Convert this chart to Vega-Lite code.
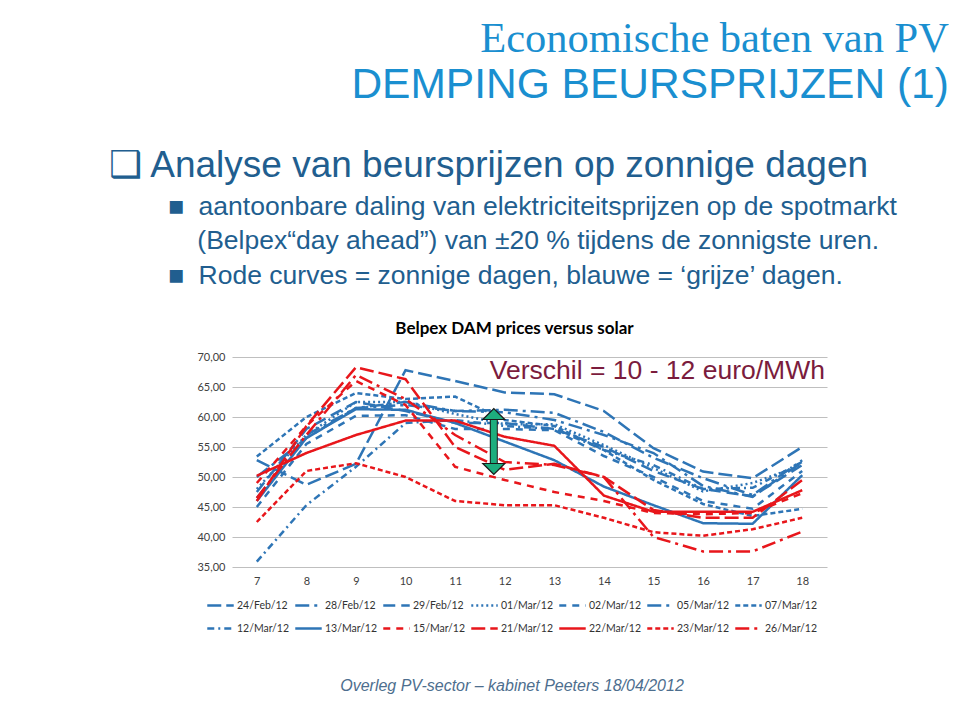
{
  "$schema": "https://vega.github.io/schema/vega-lite/v6.json",
  "background": "white",
  "padding": {"left": 108, "top": 17, "right": 0, "bottom": 0},
  "autosize": {"type": "pad"},
  "config": {
    "locale": {"number": {"decimal": ",", "thousands": ".", "grouping": [3], "currency": ["", " €"]}},
    "view": {"stroke": null},
    "font": "Lato",
    "concat": {"spacing": 0}
  },
  "title": {
    "text": "Economische baten van PV",
    "subtitle": "DEMPING BEURSPRIJZEN (1)",
    "anchor": "end",
    "dx": 52,
    "offset": 40,
    "font": "Liberation Serif",
    "fontSize": 42.5,
    "fontWeight": "normal",
    "color": "#1A8FD0",
    "subtitleFont": "Liberation Sans",
    "subtitleFontSize": 42.5,
    "subtitleColor": "#1A8FD0",
    "subtitlePadding": 4
  },
  "vconcat": [
    {
      "title": {
        "text": "❑ Analyse van beursprijzen op zonnige dagen",
        "subtitle": [
          "\u200b\u00a0\u00a0\u00a0\u00a0\u00a0\u00a0\u00a0\u00a0■\u00a0\u00a0aantoonbare daling van elektriciteitsprijzen op de spotmarkt",
          "\u200b\u00a0\u00a0\u00a0\u00a0\u00a0\u00a0\u00a0\u00a0\u00a0\u00a0\u00a0\u00a0(Belpex“day ahead”) van ±20 % tijdens de zonnigste uren.",
          "\u200b\u00a0\u00a0\u00a0\u00a0\u00a0\u00a0\u00a0\u00a0■\u00a0\u00a0Rode curves = zonnige dagen, blauwe = ‘grijze’ dagen."
        ],
        "anchor": "start",
        "dx": -88,
        "offset": 30,
        "font": "Liberation Sans",
        "fontSize": 37,
        "fontWeight": "normal",
        "color": "#215E8F",
        "subtitleFont": "Liberation Sans",
        "subtitleFontSize": 26.5,
        "subtitleColor": "#215E8F",
        "subtitleLineHeight": 34.5,
        "subtitlePadding": 9
      },
      "vconcat": [
        {
          "width": 595,
          "height": 210,
          "title": {
            "text": "Belpex DAM prices versus solar",
            "font": "Lato",
            "fontSize": 17,
            "fontWeight": "bold",
            "color": "#000000",
            "offset": 13,
            "dx": -15
          },
          "layer": [
            {
              "data": {"values": [
                {"date":"24/Feb/12","hour":7,"price":52.8},{"date":"24/Feb/12","hour":8,"price":48.7},{"date":"24/Feb/12","hour":9,"price":52.2},{"date":"24/Feb/12","hour":10,"price":67.8},{"date":"24/Feb/12","hour":11,"price":66.0},{"date":"24/Feb/12","hour":12,"price":64.1},{"date":"24/Feb/12","hour":13,"price":63.8},{"date":"24/Feb/12","hour":14,"price":61.0},{"date":"24/Feb/12","hour":15,"price":54.8},{"date":"24/Feb/12","hour":16,"price":50.9},{"date":"24/Feb/12","hour":17,"price":49.8},{"date":"24/Feb/12","hour":18,"price":55.0},
                {"date":"28/Feb/12","hour":7,"price":46.5},{"date":"28/Feb/12","hour":8,"price":57.0},{"date":"28/Feb/12","hour":9,"price":61.5},{"date":"28/Feb/12","hour":10,"price":62.0},{"date":"28/Feb/12","hour":11,"price":61.0},{"date":"28/Feb/12","hour":12,"price":60.8},{"date":"28/Feb/12","hour":13,"price":59.5},{"date":"28/Feb/12","hour":14,"price":57.0},{"date":"28/Feb/12","hour":15,"price":54.0},{"date":"28/Feb/12","hour":16,"price":48.5},{"date":"28/Feb/12","hour":17,"price":46.7},{"date":"28/Feb/12","hour":18,"price":52.5},
                {"date":"29/Feb/12","hour":7,"price":47.5},{"date":"29/Feb/12","hour":8,"price":58.0},{"date":"29/Feb/12","hour":9,"price":62.5},{"date":"29/Feb/12","hour":10,"price":61.0},{"date":"29/Feb/12","hour":11,"price":59.0},{"date":"29/Feb/12","hour":12,"price":59.0},{"date":"29/Feb/12","hour":13,"price":58.0},{"date":"29/Feb/12","hour":14,"price":55.0},{"date":"29/Feb/12","hour":15,"price":51.0},{"date":"29/Feb/12","hour":16,"price":48.0},{"date":"29/Feb/12","hour":17,"price":46.8},{"date":"29/Feb/12","hour":18,"price":52.0},
                {"date":"01/Mar/12","hour":7,"price":48.0},{"date":"01/Mar/12","hour":8,"price":57.0},{"date":"01/Mar/12","hour":9,"price":62.5},{"date":"01/Mar/12","hour":10,"price":62.5},{"date":"01/Mar/12","hour":11,"price":60.5},{"date":"01/Mar/12","hour":12,"price":58.8},{"date":"01/Mar/12","hour":13,"price":58.8},{"date":"01/Mar/12","hour":14,"price":55.3},{"date":"01/Mar/12","hour":15,"price":51.5},{"date":"01/Mar/12","hour":16,"price":47.6},{"date":"01/Mar/12","hour":17,"price":49.0},{"date":"01/Mar/12","hour":18,"price":52.0},
                {"date":"02/Mar/12","hour":7,"price":45.0},{"date":"02/Mar/12","hour":8,"price":55.5},{"date":"02/Mar/12","hour":9,"price":60.2},{"date":"02/Mar/12","hour":10,"price":60.3},{"date":"02/Mar/12","hour":11,"price":58.0},{"date":"02/Mar/12","hour":12,"price":58.0},{"date":"02/Mar/12","hour":13,"price":57.8},{"date":"02/Mar/12","hour":14,"price":53.5},{"date":"02/Mar/12","hour":15,"price":50.0},{"date":"02/Mar/12","hour":16,"price":46.0},{"date":"02/Mar/12","hour":17,"price":44.7},{"date":"02/Mar/12","hour":18,"price":51.0},
                {"date":"05/Mar/12","hour":7,"price":50.0},{"date":"05/Mar/12","hour":8,"price":56.5},{"date":"05/Mar/12","hour":9,"price":61.5},{"date":"05/Mar/12","hour":10,"price":62.5},{"date":"05/Mar/12","hour":11,"price":61.0},{"date":"05/Mar/12","hour":12,"price":61.2},{"date":"05/Mar/12","hour":13,"price":60.7},{"date":"05/Mar/12","hour":14,"price":57.5},{"date":"05/Mar/12","hour":15,"price":53.2},{"date":"05/Mar/12","hour":16,"price":49.8},{"date":"05/Mar/12","hour":17,"price":47.0},{"date":"05/Mar/12","hour":18,"price":52.8},
                {"date":"07/Mar/12","hour":7,"price":53.4},{"date":"07/Mar/12","hour":8,"price":60.0},{"date":"07/Mar/12","hour":9,"price":64.0},{"date":"07/Mar/12","hour":10,"price":63.0},{"date":"07/Mar/12","hour":11,"price":63.4},{"date":"07/Mar/12","hour":12,"price":59.5},{"date":"07/Mar/12","hour":13,"price":58.5},{"date":"07/Mar/12","hour":14,"price":54.5},{"date":"07/Mar/12","hour":15,"price":49.5},{"date":"07/Mar/12","hour":16,"price":45.5},{"date":"07/Mar/12","hour":17,"price":43.5},{"date":"07/Mar/12","hour":18,"price":44.7},
                {"date":"12/Mar/12","hour":7,"price":35.9},{"date":"12/Mar/12","hour":8,"price":45.3},{"date":"12/Mar/12","hour":9,"price":51.7},{"date":"12/Mar/12","hour":10,"price":59.0},{"date":"12/Mar/12","hour":11,"price":59.5},{"date":"12/Mar/12","hour":12,"price":58.5},{"date":"12/Mar/12","hour":13,"price":58.0},{"date":"12/Mar/12","hour":14,"price":54.5},{"date":"12/Mar/12","hour":15,"price":52.0},{"date":"12/Mar/12","hour":16,"price":48.0},{"date":"12/Mar/12","hour":17,"price":48.2},{"date":"12/Mar/12","hour":18,"price":52.5},
                {"date":"13/Mar/12","hour":7,"price":46.0},{"date":"13/Mar/12","hour":8,"price":56.5},{"date":"13/Mar/12","hour":9,"price":61.3},{"date":"13/Mar/12","hour":10,"price":61.2},{"date":"13/Mar/12","hour":11,"price":59.0},{"date":"13/Mar/12","hour":12,"price":55.9},{"date":"13/Mar/12","hour":13,"price":52.8},{"date":"13/Mar/12","hour":14,"price":48.4},{"date":"13/Mar/12","hour":15,"price":45.3},{"date":"13/Mar/12","hour":16,"price":42.3},{"date":"13/Mar/12","hour":17,"price":42.2},{"date":"13/Mar/12","hour":18,"price":50.3},
                {"date":"15/Mar/12","hour":7,"price":49.0},{"date":"15/Mar/12","hour":8,"price":58.5},{"date":"15/Mar/12","hour":9,"price":66.0},{"date":"15/Mar/12","hour":10,"price":62.0},{"date":"15/Mar/12","hour":11,"price":51.7},{"date":"15/Mar/12","hour":12,"price":49.5},{"date":"15/Mar/12","hour":13,"price":47.5},{"date":"15/Mar/12","hour":14,"price":46.0},{"date":"15/Mar/12","hour":15,"price":44.0},{"date":"15/Mar/12","hour":16,"price":43.8},{"date":"15/Mar/12","hour":17,"price":44.0},{"date":"15/Mar/12","hour":18,"price":47.3},
                {"date":"21/Mar/12","hour":7,"price":46.0},{"date":"21/Mar/12","hour":8,"price":58.5},{"date":"21/Mar/12","hour":9,"price":68.3},{"date":"21/Mar/12","hour":10,"price":66.3},{"date":"21/Mar/12","hour":11,"price":55.0},{"date":"21/Mar/12","hour":12,"price":51.2},{"date":"21/Mar/12","hour":13,"price":52.2},{"date":"21/Mar/12","hour":14,"price":50.0},{"date":"21/Mar/12","hour":15,"price":44.5},{"date":"21/Mar/12","hour":16,"price":43.2},{"date":"21/Mar/12","hour":17,"price":43.2},{"date":"21/Mar/12","hour":18,"price":49.5},
                {"date":"22/Mar/12","hour":7,"price":50.2},{"date":"22/Mar/12","hour":8,"price":54.0},{"date":"22/Mar/12","hour":9,"price":57.0},{"date":"22/Mar/12","hour":10,"price":59.4},{"date":"22/Mar/12","hour":11,"price":59.4},{"date":"22/Mar/12","hour":12,"price":56.7},{"date":"22/Mar/12","hour":13,"price":55.2},{"date":"22/Mar/12","hour":14,"price":46.9},{"date":"22/Mar/12","hour":15,"price":44.2},{"date":"22/Mar/12","hour":16,"price":44.2},{"date":"22/Mar/12","hour":17,"price":44.2},{"date":"22/Mar/12","hour":18,"price":47.8},
                {"date":"23/Mar/12","hour":7,"price":42.5},{"date":"23/Mar/12","hour":8,"price":51.0},{"date":"23/Mar/12","hour":9,"price":52.3},{"date":"23/Mar/12","hour":10,"price":50.0},{"date":"23/Mar/12","hour":11,"price":46.0},{"date":"23/Mar/12","hour":12,"price":45.3},{"date":"23/Mar/12","hour":13,"price":45.3},{"date":"23/Mar/12","hour":14,"price":43.2},{"date":"23/Mar/12","hour":15,"price":40.8},{"date":"23/Mar/12","hour":16,"price":40.2},{"date":"23/Mar/12","hour":17,"price":41.3},{"date":"23/Mar/12","hour":18,"price":43.2},
                {"date":"26/Mar/12","hour":7,"price":46.5},{"date":"26/Mar/12","hour":8,"price":57.0},{"date":"26/Mar/12","hour":9,"price":67.0},{"date":"26/Mar/12","hour":10,"price":63.0},{"date":"26/Mar/12","hour":11,"price":57.0},{"date":"26/Mar/12","hour":12,"price":52.5},{"date":"26/Mar/12","hour":13,"price":52.0},{"date":"26/Mar/12","hour":14,"price":50.0},{"date":"26/Mar/12","hour":15,"price":40.0},{"date":"26/Mar/12","hour":16,"price":37.6},{"date":"26/Mar/12","hour":17,"price":37.6},{"date":"26/Mar/12","hour":18,"price":40.9}
              ]},
              "mark": {"type": "line", "strokeWidth": 2.5},
              "encoding": {
                "x": {
                  "field": "hour", "type": "quantitative",
                  "scale": {"domain": [6.5, 18.5], "nice": false, "zero": false},
                  "axis": {"values": [7,8,9,10,11,12,13,14,15,16,17,18], "tickCount": 12, "title": null, "grid": false, "ticks": false, "domain": false, "labelOverlap": false, "labelFont": "Lato", "labelFontSize": 11, "labelColor": "#404040", "labelPadding": 8}
                },
                "y": {
                  "field": "price", "type": "quantitative",
                  "scale": {"domain": [35, 70], "nice": false, "zero": false},
                  "axis": {"values": [35,40,45,50,55,60,65,70], "tickCount": 8, "format": ".2f", "title": null, "ticks": false, "domain": false, "labelOverlap": false, "gridColor": "#BFBFBF", "gridWidth": 1.2, "labelFont": "Lato", "labelFontSize": 11, "labelColor": "#404040", "labelPadding": 7}
                },
                "color": {
                  "field": "date", "type": "nominal",
                  "scale": {
                    "domain": ["24/Feb/12","28/Feb/12","29/Feb/12","01/Mar/12","02/Mar/12","05/Mar/12","07/Mar/12","12/Mar/12","13/Mar/12","15/Mar/12","21/Mar/12","22/Mar/12","23/Mar/12","26/Mar/12"],
                    "range": ["#2E75B6","#2E75B6","#2E75B6","#2E75B6","#2E75B6","#2E75B6","#2E75B6","#2E75B6","#2E75B6","#E8161B","#E8161B","#E8161B","#E8161B","#E8161B"]
                  },
                  "legend": {"orient": "none", "legendX": -26, "legendY": 234, "direction": "horizontal", "columns": 7, "title": "Overleg PV-sector – kabinet Peeters 18/04/2012", "titleOrient": "bottom", "titleAnchor": "middle", "titleFont": "Liberation Sans", "titleFontSize": 16, "titleFontStyle": "italic", "titleFontWeight": "normal", "titleColor": "#4D6E8E", "titlePadding": 44, "titleLimit": 1000, "symbolType": "stroke", "symbolSize": 700, "symbolStrokeWidth": 2.5, "labelFont": "Lato", "labelFontSize": 10.5, "labelColor": "#333333", "labelOffset": 2, "columnPadding": 0, "rowPadding": 3}
                },
                "strokeDash": {
                  "field": "date", "type": "nominal",
                  "scale": {
                    "domain": ["24/Feb/12","28/Feb/12","29/Feb/12","01/Mar/12","02/Mar/12","05/Mar/12","07/Mar/12","12/Mar/12","13/Mar/12","15/Mar/12","21/Mar/12","22/Mar/12","23/Mar/12","26/Mar/12"],
                    "range": [[14,5],[14,5,3,5],[12,6],[2,3],[7,6],[14,5,3,5],[5,3],[7,4,2,4],[1,0],[7,6],[14,5],[1,0],[5,3],[14,5,3,5]]
                  },
                  "legend": {"orient": "none", "legendX": -26, "legendY": 234, "direction": "horizontal", "columns": 7, "title": "Overleg PV-sector – kabinet Peeters 18/04/2012", "titleOrient": "bottom", "titleAnchor": "middle", "titleFont": "Liberation Sans", "titleFontSize": 16, "titleFontStyle": "italic", "titleFontWeight": "normal", "titleColor": "#4D6E8E", "titlePadding": 44, "titleLimit": 1000, "symbolType": "stroke", "symbolSize": 700, "symbolStrokeWidth": 2.5, "labelFont": "Lato", "labelFontSize": 10.5, "labelColor": "#333333", "labelOffset": 2, "columnPadding": 0, "rowPadding": 3}
                }
              }
            },
            {
              "data": {"values": [{"hour": 11.7, "price": 67.7, "label": "Verschil = 10 - 12 euro/MWh"}]},
              "mark": {"type": "text", "align": "left", "baseline": "middle", "font": "Liberation Sans", "fontSize": 26.5, "color": "#7B1C3D"},
              "encoding": {
                "x": {"field": "hour", "type": "quantitative"},
                "y": {"field": "price", "type": "quantitative"},
                "text": {"field": "label"}
              }
            },
            {
              "data": {"values": [{"hour": 11.78, "low": 52.0, "high": 59.8}]},
              "mark": {"type": "rule", "strokeWidth": 8, "color": "#1A1A1A"},
              "encoding": {
                "x": {"field": "hour", "type": "quantitative"},
                "y": {"field": "low", "type": "quantitative"},
                "y2": {"field": "high"}
              }
            },
            {
              "data": {"values": [{"hour": 11.78, "low": 52.0, "high": 59.8}]},
              "mark": {"type": "rule", "strokeWidth": 6, "color": "#1DAE7E"},
              "encoding": {
                "x": {"field": "hour", "type": "quantitative"},
                "y": {"field": "low", "type": "quantitative"},
                "y2": {"field": "high"}
              }
            },
            {
              "data": {"values": [{"hour": 11.78, "price": 60.5}]},
              "mark": {"type": "point", "shape": "M-1,0.5L0,-0.5L1,0.5Z", "size": 484, "filled": true, "fill": "#1DAE7E", "stroke": "#1A1A1A", "strokeWidth": 1.2, "opacity": 1},
              "encoding": {
                "x": {"field": "hour", "type": "quantitative"},
                "y": {"field": "price", "type": "quantitative"}
              }
            },
            {
              "data": {"values": [{"hour": 11.78, "price": 51.33}]},
              "mark": {"type": "point", "shape": "M-1,-0.5L0,0.5L1,-0.5Z", "size": 484, "filled": true, "fill": "#1DAE7E", "stroke": "#1A1A1A", "strokeWidth": 1.2, "opacity": 1},
              "encoding": {
                "x": {"field": "hour", "type": "quantitative"},
                "y": {"field": "price", "type": "quantitative"}
              }
            }
          ]
        }
      ]
    }
  ]
}
